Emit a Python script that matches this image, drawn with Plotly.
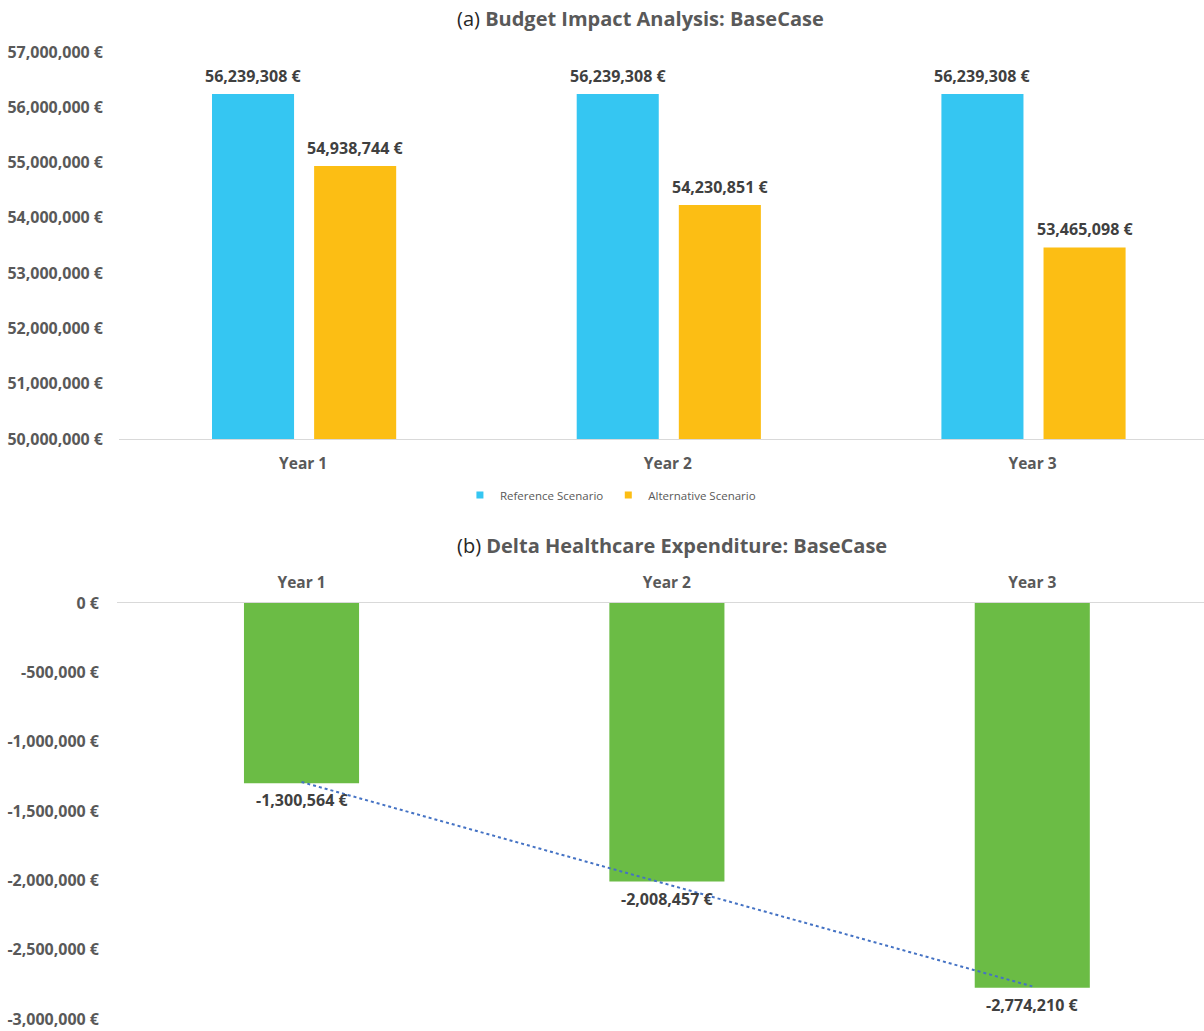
import numpy as np
import plotly.graph_objects as go

# ---- data ----
years = ["Year 1", "Year 2", "Year 3"]
reference_scenario = [56239308, 56239308, 56239308]
alternative_scenario = [54938744, 54230851, 53465098]
delta_expenditure = [-1300564, -2008457, -2774210]

top_ticks = [50000000, 51000000, 52000000, 53000000, 54000000, 55000000, 56000000, 57000000]
bottom_ticks = [0, -500000, -1000000, -1500000, -2000000, -2500000, -3000000]

FONT = "Open Sans"
GRAY = "#595959"
DARK = "#404040"
BLUE = "#35C6F2"
ORANGE = "#FCBE14"
GREEN = "#6BBC45"


def eur(v):
    return f"{v:,.0f} €"


fig = go.Figure()

W_TOP = 0.225
OFF_BLUE = -0.25
OFF_ORANGE = 0.03

fig.add_trace(go.Bar(x=years, y=reference_scenario, name="Reference Scenario",
                     marker_color=BLUE, width=W_TOP, offset=OFF_BLUE,
                     showlegend=False, xaxis="x", yaxis="y"))
fig.add_trace(go.Bar(x=years, y=alternative_scenario, name="Alternative Scenario",
                     marker_color=ORANGE, width=W_TOP, offset=OFF_ORANGE,
                     showlegend=False, xaxis="x", yaxis="y"))

# legend proxies (small square markers)
fig.add_trace(go.Scatter(x=[None], y=[None], mode="markers", name="Reference Scenario",
                         marker=dict(symbol="square", size=7, color=BLUE), xaxis="x", yaxis="y"))
fig.add_trace(go.Scatter(x=[None], y=[None], mode="markers", name="Alternative Scenario",
                         marker=dict(symbol="square", size=7, color=ORANGE), xaxis="x", yaxis="y"))

# bottom chart
W_BOT = 0.315
fig.add_trace(go.Bar(x=years, y=delta_expenditure, marker_color=GREEN, width=W_BOT,
                     showlegend=False, xaxis="x2", yaxis="y2"))

# linear trendline (least squares fit of the delta values)
idx = np.arange(len(years))
slope, intercept = np.polyfit(idx, delta_expenditure, 1)
trend = slope * idx + intercept
fig.add_trace(go.Scatter(x=years, y=trend, mode="lines", showlegend=False,
                         line=dict(color="#4472C4", width=2, dash="dot"),
                         xaxis="x2", yaxis="y2"))

annotations = []
label_font = dict(family=FONT, size=16, color=DARK, weight="bold")
for i, (r, a) in enumerate(zip(reference_scenario, alternative_scenario)):
    annotations.append(dict(x=i + OFF_BLUE + W_TOP / 2, y=r, xref="x", yref="y", text=eur(r),
                            showarrow=False, yanchor="bottom", yshift=5,
                            font=label_font))
    annotations.append(dict(x=i + OFF_ORANGE + W_TOP / 2, y=a, xref="x", yref="y", text=eur(a),
                            showarrow=False, yanchor="bottom", yshift=5,
                            font=label_font))
for i, d in enumerate(delta_expenditure):
    annotations.append(dict(x=i, y=d, xref="x2", yref="y2", text=eur(d),
                            showarrow=False, yanchor="top", yshift=-4,
                            font=label_font))

annotations.append(dict(x=640 / 1204, y=(1031 - 18) / 1031, xref="paper", yref="paper",
                        xanchor="center", yanchor="middle", showarrow=False,
                        text="<span style='color:#262626'>(a)</span> <b>Budget Impact Analysis: BaseCase</b>",
                        font=dict(family=FONT, size=20, color=GRAY)))
annotations.append(dict(x=672 / 1204, y=(1031 - 545) / 1031, xref="paper", yref="paper",
                        xanchor="center", yanchor="middle", showarrow=False,
                        text="<span style='color:#262626'>(b)</span> <b>Delta Healthcare Expenditure: BaseCase</b>",
                        font=dict(family=FONT, size=20, color=GRAY)))

XR = [-0.505, 2.47]
ytick_font = dict(family=FONT, size=16, color=GRAY, weight="bold")
xtick_font = dict(family=FONT, size=15.5, color=GRAY, weight="bold")

fig.update_layout(
    template="none",
    width=1204, height=1031,
    margin=dict(l=0, r=0, t=0, b=0, autoexpand=False),
    paper_bgcolor="white", plot_bgcolor="white",
    font=dict(family=FONT, color=GRAY),
    barmode="group",
    annotations=annotations,
    showlegend=True,
    legend=dict(orientation="h", x=0.507, xanchor="center", y=(1031 - 495) / 1031, yanchor="middle",
                font=dict(family=FONT, size=11.5, color=GRAY), itemwidth=30,
                bgcolor="rgba(0,0,0,0)"),
    xaxis=dict(domain=[119 / 1204, 1.0], range=XR, type="category", automargin=False,
               showline=True, linecolor="#D9D9D9", linewidth=1, showgrid=False, zeroline=False,
               ticks="", tickfont=xtick_font, ticklabelstandoff=10, anchor="y", fixedrange=True,
               ticklabeloverflow="allow"),
    yaxis=dict(domain=[(1031 - 439) / 1031, (1031 - 52) / 1031], range=[50000000, 57000000],
               tickvals=top_ticks, ticktext=[eur(v) for v in top_ticks], automargin=False,
               showgrid=False, zeroline=False, showline=False, ticks="",
               tickfont=ytick_font, ticklabelstandoff=15, anchor="x", fixedrange=True,
               ticklabeloverflow="allow"),
    xaxis2=dict(domain=[117 / 1204, 1.0], range=XR, type="category", side="top", automargin=False,
                showline=True, linecolor="#D9D9D9", linewidth=1, showgrid=False, zeroline=False,
                ticks="", tickfont=xtick_font, ticklabelstandoff=8, anchor="y2", fixedrange=True,
                ticklabeloverflow="allow"),
    yaxis2=dict(domain=[(1031 - 1019) / 1031, (1031 - 603) / 1031], range=[-3000000, 0],
                tickvals=bottom_ticks, ticktext=[eur(v) for v in bottom_ticks], automargin=False,
                showgrid=False, zeroline=False, showline=False, ticks="",
                tickfont=ytick_font, ticklabelstandoff=17, anchor="x2", fixedrange=True,
                ticklabeloverflow="allow"),
)

fig.write_html("out.html")
